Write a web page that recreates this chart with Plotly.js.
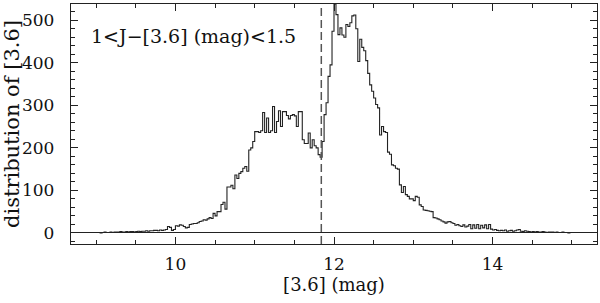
<!DOCTYPE html>
<html>
<head>
<meta charset="utf-8">
<script src="https://cdn.plot.ly/plotly-3.0.1.min.js"></script>
<style>html,body{margin:0;padding:0;background:#fff;}#chart{width:600px;height:303px;}</style>
</head>
<body>
<div id="chart"></div>
<script>
// Histogram of [3.6] magnitudes, bins of 0.025 mag starting at 9.0
const binStart = 9.0;
const binWidth = 0.025;
const counts = [
  1,1,0,1,2,1,1,2,1,2,
  2,2,3,2,2,3,2,3,3,2,
  3,4,3,4,4,5,4,5,5,6,
  6,5,7,6,7,8,15,13,6,8,
  17,16,19,18,15,12,13,20,21,22,
  22,24,27,28,31,30,33,36,34,46,
  40,50,50,67,72,56,108,108,112,104,
  136,128,140,144,152,156,145,195,200,215,
  238,238,236,240,283,236,270,236,240,297,
  236,262,287,250,285,285,276,268,276,278,
  275,250,285,285,219,210,210,235,200,219,
  205,200,184,178,215,278,306,368,395,474,
  538,513,466,482,465,460,490,485,494,510,
  512,480,403,455,436,428,405,375,348,333,
  317,302,294,230,250,238,236,190,185,160,
  158,152,150,113,95,109,90,86,80,80,
  76,86,84,66,62,54,53,52,51,50,
  36,35,33,31,28,26,23,26,27,24,
  22,18,20,17,15,19,14,16,20,10,
  19,11,20,10,18,12,19,10,20,9,
  7,8,6,5,6,5,7,4,5,6,
  4,5,7,8,4,3,5,4,3,2,
  3,2,3,2,2,3,2,1,2,2,
  2,1,2,1,1,2,1,1,0,1
];
const cutMag = 11.84;
const xTickVals = [10, 12, 14];
const xTickText = ["10", "12", "14"];
const yTickVals = [0, 100, 200, 300, 400, 500];
const yTickText = ["0", "100", "200", "300", "400", "500"];
const xRange = [8.683, 15.317];
const yRange = [-26, 538];
const labelText = "1&lt;J\u2212[3.6] (mag)&lt;1.5";

const xs = [], ys = [];
counts.forEach((c, i) => { xs.push(binStart + i * binWidth); ys.push(c); });
xs.push(binStart + counts.length * binWidth); ys.push(counts[counts.length - 1]);

const fam = "DejaVu Serif, serif";
const tickFont = {family: fam, size: 17, color: "#111"};

const data = [{
  x: xs, y: ys, type: "scatter", mode: "lines",
  line: {shape: "hv", color: "#222", width: 1.1},
  hoverinfo: "skip"
}];

const layout = {
  width: 600, height: 303,
  margin: {l: 71, r: 3, t: 4, b: 59},
  paper_bgcolor: "#fff", plot_bgcolor: "#fff",
  showlegend: false,
  font: tickFont,
  xaxis: {
    range: xRange, tickmode: "array", tickvals: xTickVals, ticktext: xTickText,
    tickfont: tickFont,
    ticks: "inside", ticklen: 7, tickwidth: 1, tickcolor: "#222",
    minor: {dtick: 0.5, tick0: 0, ticks: "inside", ticklen: 4, tickwidth: 1, tickcolor: "#222"},
    showgrid: false, zeroline: false,
    showline: true, linecolor: "#222", linewidth: 1.2, mirror: "allticks",
    ticklabelstandoff: 4,
    title: {text: "[3.6] (mag)", font: {family: fam, size: 18, color: "#111"}, standoff: 1}
  },
  yaxis: {
    range: yRange, tickmode: "array", tickvals: yTickVals, ticktext: yTickText,
    tickfont: tickFont,
    ticks: "inside", ticklen: 7, tickwidth: 1, tickcolor: "#222",
    minor: {dtick: 20, tick0: 0, ticks: "inside", ticklen: 4, tickwidth: 1, tickcolor: "#222"},
    showgrid: false, zeroline: true, zerolinecolor: "#222", zerolinewidth: 1,
    showline: true, linecolor: "#222", linewidth: 1.2, mirror: "allticks",
    ticklabelstandoff: 12,
    title: {text: "distribution of [3.6]", font: {family: fam, size: 21, color: "#111"}, standoff: 1}
  },
  shapes: [{
    type: "line", xref: "x", yref: "paper", x0: cutMag, x1: cutMag, y0: 0, y1: 1,
    line: {color: "#555", width: 1.5, dash: "8px,4px"}
  }],
  annotations: [{
    xref: "paper", yref: "paper", x: 0.034, y: 0.867, xanchor: "left", yanchor: "middle",
    text: labelText, showarrow: false, font: {family: fam, size: 19, color: "#111"}
  }]
};

Plotly.newPlot("chart", data, layout, {displayModeBar: false, staticPlot: true});
</script>
</body>
</html>
